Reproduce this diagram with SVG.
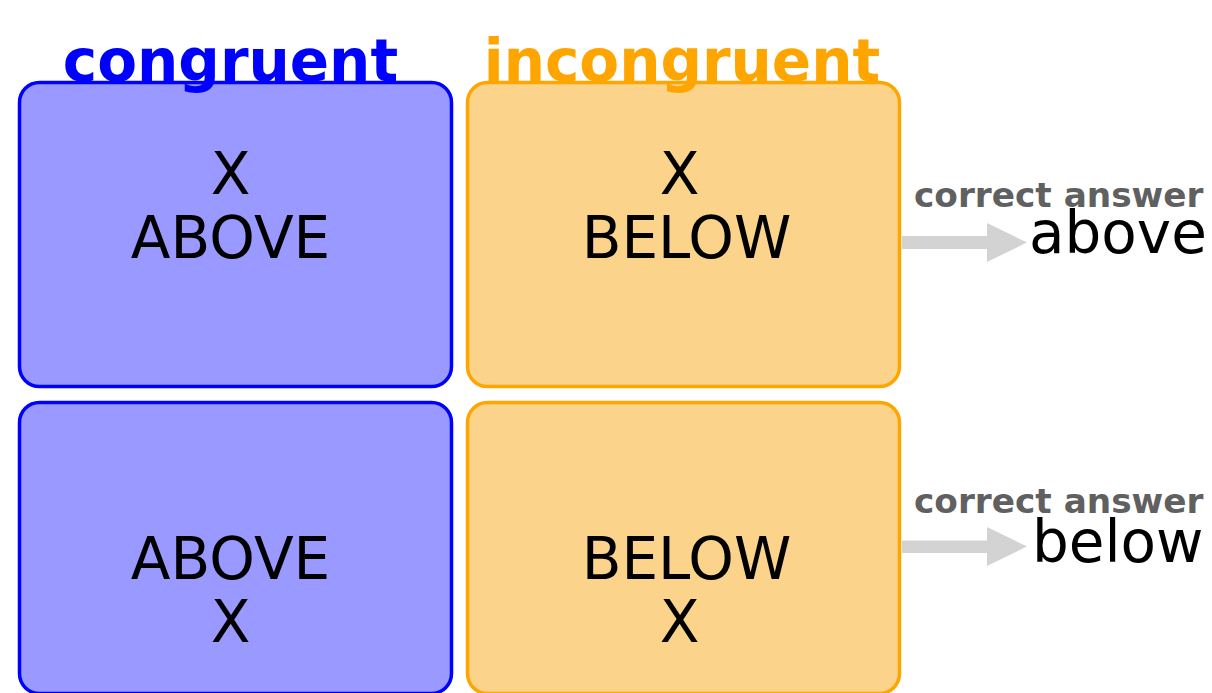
<svg xmlns="http://www.w3.org/2000/svg" width="1212" height="693" viewBox="0 0 1212 693">
<style>
.cong{fill:#9999ff;stroke:#0000ff;stroke-width:3.5}
.inc{fill:#fcd38b;stroke:#ffa500;stroke-width:3.5}
.t{font-family:"DejaVu Sans",sans-serif;font-size:58px;fill:#000;text-anchor:middle}
.title{font-family:"DejaVu Sans",sans-serif;font-size:58px;font-weight:bold;text-anchor:middle}
.ca{font-family:"DejaVu Sans",sans-serif;font-size:34.3px;font-weight:bold;fill:#606060}
.ans{font-family:"DejaVu Sans",sans-serif;font-size:58px;fill:#000}
.arr{fill:#d3d3d3}
</style>
<rect width="1212" height="693" fill="#fff"/>
<g id="box-congruent-above">
<rect class="cong" x="19.5" y="82.5" width="432" height="304" rx="20"/>
<text class="t" x="230.5" y="194">X</text>
<text class="t" x="230.5" y="258">ABOVE</text>
</g>
<g id="box-incongruent-below">
<rect class="inc" x="467.5" y="82.5" width="432" height="304" rx="20"/>
<text class="t" x="679.5" y="194">X</text>
<text class="t" x="686.5" y="258">BELOW</text>
</g>
<g id="box-congruent-below">
<rect class="cong" x="19.5" y="402.5" width="432" height="291" rx="20"/>
<text class="t" x="230.5" y="579">ABOVE</text>
<text class="t" x="230.5" y="642">X</text>
</g>
<g id="box-incongruent-above">
<rect class="inc" x="467.5" y="402.5" width="432" height="291" rx="20"/>
<text class="t" x="686.5" y="579">BELOW</text>
<text class="t" x="679.5" y="642">X</text>
</g>
<g id="title-congruent">
<text class="title" x="230.5" y="81" fill="#0000ff">congruent</text>
</g>
<g id="title-incongruent">
<text class="title" x="682" y="81" fill="#ffa500">incongruent</text>
</g>
<g id="connectors">
<path class="arr" d="M902 236 H987 V223 L1027 242.5 L987 262 V249 H902 Z"/>
<path class="arr" d="M902 540.5 H987 V527 L1027 546.5 L987 566 V553 H902 Z"/>
</g>
<g id="answer-above">
<text class="ca" x="914" y="207">correct answer</text>
<text class="ans" x="1029" y="253">above</text>
</g>
<g id="answer-below">
<text class="ca" x="914" y="513">correct answer</text>
<text class="ans" x="1032" y="562">below</text>
</g>
</svg>
